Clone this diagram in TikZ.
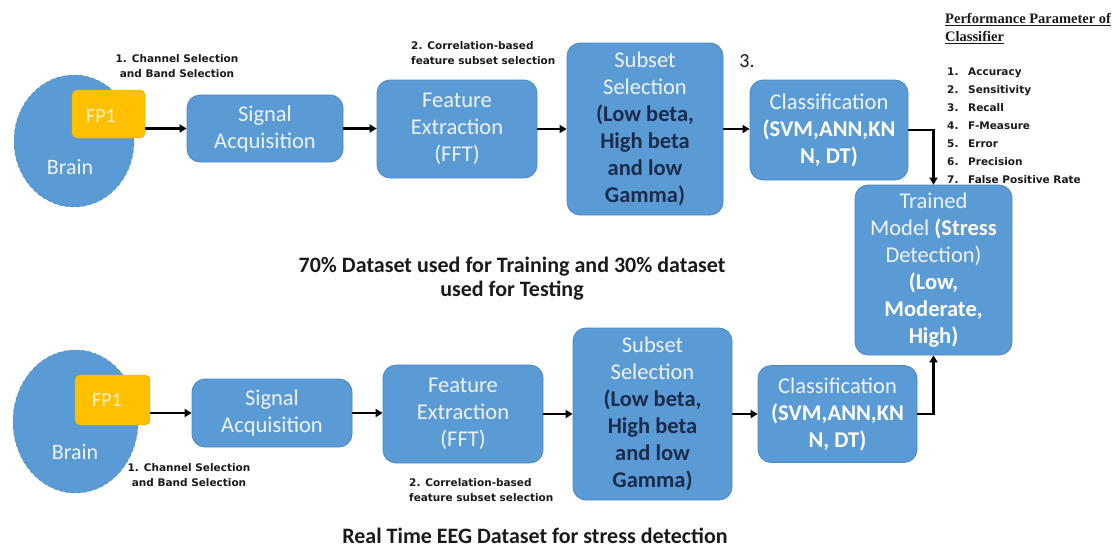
\documentclass[tikz,border=0pt]{standalone}
\usepackage{fontspec}
\setmainfont{Carlito}
\newfontfamily\annfont{DejaVu Sans}
\newfontfamily\perffont{Liberation Serif}
\usetikzlibrary{shapes.geometric,arrows.meta}
\definecolor{boxblue}{HTML}{5B9BD5}
\definecolor{boxline}{HTML}{4A86C2}
\definecolor{lighttxt}{HTML}{EEF3FA}
\definecolor{navy}{HTML}{1B2B4B}
\definecolor{fpyellow}{HTML}{FFC000}
\definecolor{fptxt}{HTML}{FFF2CC}
\definecolor{inktxt}{HTML}{1A1A1A}
\newcommand{\navyb}[1]{{\bfseries\color{navy}#1}}
\newcommand{\whiteb}[1]{{\bfseries\color{white}#1}}
\begin{document}
\begin{tikzpicture}[x=1pt,y=-1pt,
  box/.style={draw=boxline, line width=0.8pt, fill=boxblue, rounded corners=13pt, align=center, text=lighttxt, inner sep=0pt, font=\fontsize{22.5}{27}\selectfont},
  brainshape/.style={ellipse, fill=boxblue, draw=boxline!80!gray, dashed, line width=0.5pt, inner sep=0pt},
  fpbox/.style={fill=fpyellow, draw=fpyellow!90!black, rounded corners=5pt, inner sep=0pt},
  ann/.style={font=\annfont\bfseries\fontsize{10.5}{15}\selectfont, text=inktxt, align=center, inner sep=0pt},
  arr/.style={line width=2.6pt, -{Triangle[length=7pt,width=8pt]}},
]
\useasboundingbox (0,0) rectangle (1116,549);

% ---------- top row ----------
\node[brainshape, minimum width=120pt, minimum height=132pt] (brainA) at (74,141) {};
\node[fpbox, minimum width=73pt, minimum height=48pt] (fpA) at (108.5,114) {};
\node[text=fptxt, font=\fontsize{20}{24}\selectfont] (fpAt) at (101,116) {FP1};
\node[text=lighttxt, font=\fontsize{22}{26}\selectfont] (brainAt) at (70,167) {Brain};

\node[box, minimum width=156pt, minimum height=67pt] (sigA) at (265,128.5) {Signal\\Acquisition};
\node[box, minimum width=160pt, minimum height=98pt] (featA) at (457,129) {Feature\\Extraction\\(FFT)};
\node[box, minimum width=156pt, minimum height=172pt] (subA) at (645,129) {Subset\\Selection\\\navyb{(Low beta,}\\\navyb{High beta}\\\navyb{and low}\\\navyb{Gamma)}};
\node[box, minimum width=158pt, minimum height=100pt] (clsA) at (829,130) {Classification\\\whiteb{(SVM,ANN,KN}\\\whiteb{N, DT)}};

\node[box, minimum width=157pt, minimum height=170pt] (trained) at (933.5,270) {Trained\\Model \whiteb{(Stress}\\Detection)\\\whiteb{(Low,}\\\whiteb{Moderate,}\\\whiteb{High)}};

\node[ann] (annA1) at (177,66) {1. Channel Selection\\and Band Selection};
\node[ann, align=left, anchor=west] (annA2) at (411,53) {2. Correlation-based\\feature subset selection};
\node[font=\fontsize{20}{24}\selectfont, text=inktxt] (three) at (747,61) {3.};

% ---------- bottom row ----------
\node[brainshape, minimum width=125pt, minimum height=143pt] (brainB) at (75.5,421.5) {};
\node[fpbox, minimum width=75pt, minimum height=50pt] (fpB) at (112.5,400) {};
\node[text=fptxt, font=\fontsize{20}{24}\selectfont] (fpBt) at (107,400) {FP1};
\node[text=lighttxt, font=\fontsize{22}{26}\selectfont] (brainBt) at (75,452) {Brain};

\node[box, minimum width=160pt, minimum height=68pt] (sigB) at (272,413) {Signal\\Acquisition};
\node[box, minimum width=160pt, minimum height=98pt] (featB) at (463,414) {Feature\\Extraction\\(FFT)};
\node[box, minimum width=159pt, minimum height=172pt] (subB) at (652.5,414) {Subset\\Selection\\\navyb{(Low beta,}\\\navyb{High beta}\\\navyb{and low}\\\navyb{Gamma)}};
\node[box, minimum width=159pt, minimum height=97pt] (clsB) at (837.5,414) {Classification\\\whiteb{(SVM,ANN,KN}\\\whiteb{N, DT)}};

\node[ann] (annB1) at (189,475) {1. Channel Selection\\and Band Selection};
\node[ann, align=left, anchor=west] (annB2) at (409,490) {2. Correlation-based\\feature subset selection};

% ---------- texts ----------
\node[font=\bfseries\fontsize{22}{24}\selectfont, align=center, text=inktxt] (split) at (512,279) {70\% Dataset used for Training and 30\% dataset\\used for Testing};
\node[font=\bfseries\fontsize{22}{24}\selectfont, text=inktxt] (title) at (535,536) {Real Time EEG Dataset for stress detection};

\node[anchor=north west, font=\perffont\bfseries\fontsize{14.5}{18}\selectfont, align=left, inner sep=0pt, text=inktxt] (perfh) at (945,13) {\underline{Performance Parameter of}\\\underline{Classifier}};
\node[anchor=north west, ann, align=left, font=\annfont\bfseries\fontsize{10.5}{18}\selectfont] (perfl) at (947,68) {\makebox[21pt][l]{1.}Accuracy\\\makebox[21pt][l]{2.}Sensitivity\\\makebox[21pt][l]{3.}Recall\\\makebox[21pt][l]{4.}F-Measure\\\makebox[21pt][l]{5.}Error\\\makebox[21pt][l]{6.}Precision\\\makebox[21pt][l]{7.}False Positive Rate};

% ---------- connectors ----------
\draw[arr] (fpA.east |- sigA.west) -- (sigA.west);
\draw[arr] (sigA.east) -- (featA.west |- sigA.east);
\draw[arr] (featA.east) -- (subA.west |- featA.east);
\draw[arr] (subA.east) -- (clsA.west |- subA.east);
\draw[arr] (clsA.east) -| (trained.north);

\draw[arr] (fpB.east |- sigB.west) -- (sigB.west);
\draw[arr] (sigB.east) -- (featB.west |- sigB.east);
\draw[arr] (featB.east) -- (subB.west |- featB.east);
\draw[arr] (subB.east) -- (clsB.west |- subB.east);
\draw[arr] (clsB.east) -| (trained.south);
\end{tikzpicture}
\end{document}
